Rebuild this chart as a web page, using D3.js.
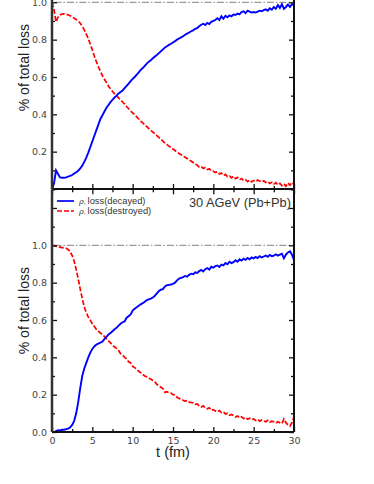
<!DOCTYPE html>
<html><head><meta charset="utf-8">
<script src="https://cdn.jsdelivr.net/npm/d3@7"></script>
<style>body{margin:0;background:#fff}svg{display:block}</style>
</head><body><svg id="c" width="374" height="484"></svg>
<script>
// time grid (fm), step 0.25
const time = d3.range(0, 30.001, 0.25);

// upper panel
const topDecayed = [
0.000,0.030,0.100,0.080,0.062,0.060,0.060,0.062,0.066,0.070,0.075,0.083,0.090,0.098,0.110,0.125,
0.145,0.168,0.195,0.225,0.255,0.285,0.315,0.345,0.375,0.395,0.415,0.435,0.450,0.465,0.478,0.490,
0.500,0.512,0.520,0.528,0.540,0.552,0.565,0.578,0.590,0.600,0.612,0.625,0.638,0.648,0.660,0.672,
0.682,0.690,0.700,0.710,0.718,0.728,0.738,0.748,0.758,0.765,0.772,0.778,0.785,0.792,0.800,0.806,
0.812,0.818,0.826,0.832,0.838,0.845,0.850,0.858,0.862,0.872,0.880,0.885,0.878,0.890,0.884,0.895,
0.900,0.905,0.915,0.905,0.925,0.912,0.928,0.920,0.930,0.925,0.935,0.932,0.940,0.935,0.948,0.952,
0.942,0.955,0.950,0.945,0.948,0.945,0.950,0.955,0.952,0.958,0.962,0.955,0.968,0.960,0.975,0.965,
0.985,0.970,0.990,0.965,0.975,0.988,0.975,0.990,0.985];
const topDestroyed = [
1.000,0.960,0.895,0.920,0.932,0.937,0.938,0.936,0.933,0.928,0.922,0.915,0.908,0.900,0.888,0.872,
0.852,0.830,0.805,0.775,0.745,0.712,0.682,0.655,0.630,0.608,0.588,0.570,0.552,0.537,0.522,0.510,
0.500,0.488,0.478,0.466,0.455,0.442,0.430,0.418,0.408,0.398,0.386,0.375,0.364,0.354,0.344,0.334,
0.324,0.314,0.305,0.296,0.286,0.276,0.266,0.256,0.246,0.238,0.230,0.222,0.214,0.206,0.198,0.190,
0.184,0.176,0.170,0.163,0.156,0.150,0.142,0.134,0.128,0.118,0.120,0.110,0.115,0.104,0.108,0.098,
0.095,0.088,0.092,0.080,0.085,0.072,0.078,0.066,0.070,0.060,0.068,0.055,0.062,0.050,0.056,0.045,
0.050,0.040,0.048,0.038,0.046,0.040,0.048,0.042,0.038,0.044,0.035,0.040,0.030,0.036,0.026,0.034,
0.022,0.030,0.018,0.028,0.015,0.032,0.020,0.035,0.025];

// lower panel: 30 AGeV (Pb+Pb)
const botDecayed = [
0.000,0.000,0.005,0.010,0.008,0.012,0.012,0.015,0.018,0.025,0.038,0.060,0.100,0.160,0.235,0.300,
0.340,0.370,0.400,0.425,0.445,0.458,0.468,0.474,0.478,0.485,0.498,0.510,0.522,0.530,0.540,0.550,
0.558,0.570,0.580,0.588,0.592,0.612,0.620,0.630,0.650,0.660,0.668,0.676,0.684,0.690,0.698,0.706,
0.710,0.714,0.720,0.730,0.742,0.755,0.762,0.765,0.780,0.786,0.788,0.790,0.794,0.800,0.812,0.822,
0.826,0.830,0.836,0.832,0.842,0.848,0.845,0.855,0.852,0.862,0.868,0.860,0.872,0.878,0.870,0.885,
0.880,0.888,0.892,0.884,0.896,0.892,0.905,0.898,0.912,0.905,0.910,0.920,0.912,0.925,0.918,0.928,
0.922,0.932,0.925,0.935,0.930,0.938,0.932,0.942,0.935,0.940,0.945,0.938,0.948,0.942,0.945,0.952,
0.945,0.950,0.955,0.930,0.950,0.962,0.968,0.950,0.920];
const botDestroyed = [
1.000,0.998,0.995,0.992,0.990,0.988,0.986,0.984,0.978,0.966,0.945,0.915,0.870,0.820,0.765,0.715,
0.670,0.640,0.615,0.598,0.580,0.565,0.550,0.540,0.530,0.522,0.512,0.500,0.488,0.478,0.466,0.455,
0.448,0.436,0.420,0.412,0.400,0.392,0.376,0.370,0.352,0.345,0.336,0.325,0.318,0.308,0.300,0.295,
0.288,0.284,0.276,0.268,0.255,0.246,0.240,0.232,0.212,0.216,0.210,0.208,0.200,0.198,0.186,0.180,
0.176,0.170,0.166,0.168,0.160,0.158,0.156,0.148,0.150,0.140,0.134,0.140,0.128,0.124,0.130,0.116,
0.120,0.112,0.108,0.115,0.104,0.108,0.096,0.100,0.090,0.094,0.088,0.080,0.086,0.076,0.082,0.072,
0.078,0.068,0.074,0.066,0.070,0.062,0.068,0.058,0.064,0.060,0.055,0.062,0.052,0.058,0.055,0.048,
0.055,0.050,0.045,0.070,0.050,0.038,0.032,0.050,0.080];

const xMajor = [0,5,10,15,20,25,30];
const xMinor = [2.5,7.5,12.5,17.5,22.5,27.5];
const yMajor = [0,0.2,0.4,0.6,0.8,1.0,1.2];
const yMinor = [0.1,0.3,0.5,0.7,0.9,1.1,1.3];
const yLabelsTop = [0.2,0.4,0.6,0.8,1.0];
const yLabelsBot = [0.0,0.2,0.4,0.6,0.8,1.0];
const legendLabels = ["loss(decayed)","loss(destroyed)"];
const energyLabel = "30 AGeV (Pb+Pb)";

const svg = d3.select("#c");
const L = 52, R = 294;
const x = d3.scaleLinear().domain([0,30]).range([L,R]);
const yTop = d3.scaleLinear().domain([0,1.3]).range([189,-53.7]);
const yBot = d3.scaleLinear().domain([0,1.3]).range([432,189.3]);
const font = "'Liberation Sans', Arial, sans-serif";
const tickFont = "'DejaVu Sans', Verdana, sans-serif";

function panel(y, dec, des, labels, isBottom){
  const g = svg.append("g");
  const y0 = y(0), y1 = y(1.3);
  const id = "clip" + (isBottom ? "b" : "t");
  svg.append("clipPath").attr("id", id).append("rect")
    .attr("x", L).attr("y", y1).attr("width", R-L).attr("height", y0-y1);

  // reference line at 1.0
  g.append("line").attr("x1", x(0.3)).attr("x2", R).attr("y1", y(1)).attr("y2", y(1))
    .attr("stroke", "#9a9a9a").attr("stroke-width", 1.3).attr("stroke-dasharray", "7,2,1.5,2");

  const line = d3.line().x((d,i)=>x(time[i])).y(d=>y(d));
  const lg = g.append("g").attr("clip-path", `url(#${id})`);
  lg.append("path").datum(des).attr("d", line).attr("fill","none")
    .attr("stroke","#ff0000").attr("stroke-width",1.7).attr("stroke-dasharray","5,2");
  lg.append("path").datum(dec).attr("d", line).attr("fill","none")
    .attr("stroke","#0000ff").attr("stroke-width",1.9);

  // ticks
  function ax(axis, tr, vals, size, fmt){
    const a = g.append("g").attr("transform", tr)
      .call(axis.tickValues(vals).tickSizeInner(size).tickSizeOuter(0).tickPadding(5).tickFormat(fmt));
    a.select(".domain").remove();
    a.selectAll("line").attr("stroke","#111").attr("stroke-width",1.3);
    a.selectAll("text").attr("font-family", tickFont).attr("font-size", 9.5).attr("fill","#444");
    return a;
  }
  ax(d3.axisBottom(x), `translate(0,${y0})`, xMajor, -5, isBottom ? d3.format("d") : ()=> "");
  ax(d3.axisBottom(x), `translate(0,${y0})`, xMinor, -3, ()=> "");
  ax(d3.axisTop(x), `translate(0,${y1})`, xMajor, -5, ()=> "");
  ax(d3.axisTop(x), `translate(0,${y1})`, xMinor, -3, ()=> "");
  ax(d3.axisLeft(y), `translate(${L},0)`, yMajor, -5, d => labels.includes(d) ? d3.format(".1f")(d) : "");
  ax(d3.axisLeft(y), `translate(${L},0)`, yMinor, -3, ()=> "");
  ax(d3.axisRight(y), `translate(${R},0)`, yMajor, -5, ()=> "");
  ax(d3.axisRight(y), `translate(${R},0)`, yMinor, -3, ()=> "");

  // frame
  g.append("line").attr("x1",L).attr("x2",R).attr("y1",y0).attr("y2",y0).attr("stroke","#111").attr("stroke-width",2);
  g.append("line").attr("x1",R).attr("x2",R).attr("y1",y1).attr("y2",y0).attr("stroke","#111").attr("stroke-width",2);
  g.append("line").attr("x1",L).attr("x2",L).attr("y1",y1).attr("y2",y0).attr("stroke","#333").attr("stroke-width",2.5);

  // y title
  g.append("text").attr("transform", `translate(29,${(y0+y1)/2}) rotate(-90)`)
    .attr("text-anchor","middle").attr("font-family",font).attr("font-size",14).attr("fill","#222")
    .text("% of total loss");
  return g;
}

panel(yTop, topDecayed, topDestroyed, yLabelsTop, false);
const gb = panel(yBot, botDecayed, botDestroyed, yLabelsBot, true);

// legend
const leg = [{c:"#0000ff", dash:null, t:legendLabels[0], yy:201},
             {c:"#ff0000", dash:"5,2", t:legendLabels[1], yy:211}];
leg.forEach(d=>{
  gb.append("line").attr("x1",57).attr("x2",74).attr("y1",d.yy).attr("y2",d.yy)
    .attr("stroke",d.c).attr("stroke-width",1.7).attr("stroke-dasharray",d.dash);
  const t = gb.append("text").attr("x",79).attr("y",d.yy+3).attr("font-family",font)
    .attr("font-size",9.3).attr("fill","#333");
  t.append("tspan").attr("font-style","italic").attr("font-family","'DejaVu Serif', serif").attr("font-size",8).text("ρ");
  t.append("tspan").attr("font-size",7).text(", ");
  t.append("tspan").text(d.t);
});
gb.append("text").attr("x",291).attr("y",206.5).attr("text-anchor","end")
  .attr("font-family",font).attr("font-size",12.8).attr("fill","#333").text(energyLabel);

// x title
svg.append("text").attr("x",173).attr("y",457).attr("text-anchor","middle")
  .attr("font-family",font).attr("font-size",14.5).attr("fill","#222").text("t (fm)");
</script>
</body></html>
